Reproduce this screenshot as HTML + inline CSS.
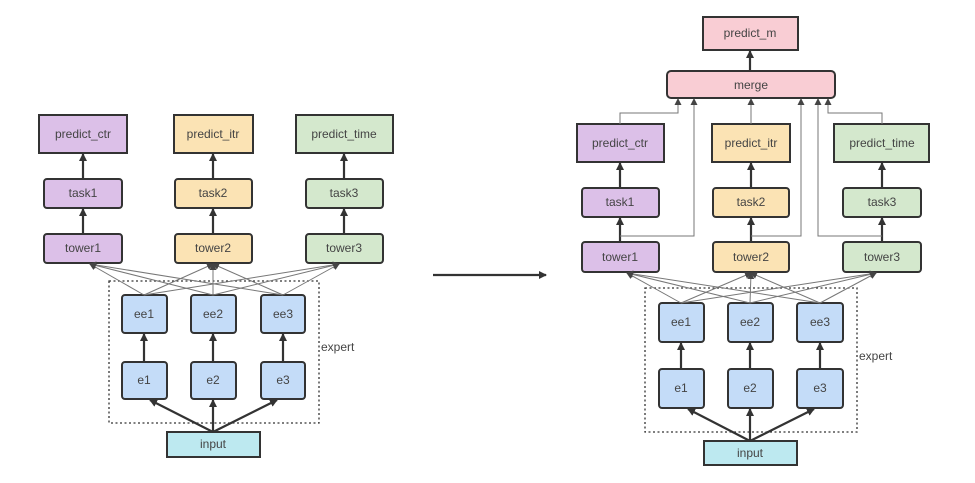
<!DOCTYPE html>
<html><head><meta charset="utf-8"><style>
html,body{margin:0;padding:0;background:#fff;}
text{font-family:"Liberation Sans",sans-serif;font-size:12px;fill:#444;text-anchor:middle;dominant-baseline:central;}
</style></head><body>
<svg width="975" height="478" viewBox="0 0 975 478" xmlns="http://www.w3.org/2000/svg">
<defs>
<marker id="a" markerWidth="8" markerHeight="8" refX="7" refY="4" orient="auto" markerUnits="userSpaceOnUse"><path d="M0,0 L8,4 L0,8 z" fill="#333"/></marker>
<marker id="g" markerWidth="7" markerHeight="7" refX="6" refY="3.5" orient="auto" markerUnits="userSpaceOnUse"><path d="M0,0 L7,3.5 L0,7 z" fill="#444"/></marker>
</defs>
<g stroke="#333" stroke-width="2">
<rect x="39" y="115" width="88" height="38" fill="#dcc0e8"/>
<rect x="174" y="115" width="79" height="38" fill="#fbe3b4"/>
<rect x="296" y="115" width="97" height="38" fill="#d4e8cd"/>
<rect x="44" y="179" width="78" height="29" rx="3" fill="#dcc0e8"/>
<rect x="175" y="179" width="77" height="29" rx="3" fill="#fbe3b4"/>
<rect x="306" y="179" width="77" height="29" rx="3" fill="#d4e8cd"/>
<rect x="44" y="234" width="78" height="29" rx="3" fill="#dcc0e8"/>
<rect x="175" y="234" width="77" height="29" rx="3" fill="#fbe3b4"/>
<rect x="306" y="234" width="77" height="29" rx="3" fill="#d4e8cd"/>
<rect x="122" y="295" width="45" height="38" rx="3" fill="#c4dcf8"/>
<rect x="191" y="295" width="45" height="38" rx="3" fill="#c4dcf8"/>
<rect x="261" y="295" width="44" height="38" rx="3" fill="#c4dcf8"/>
<rect x="122" y="362" width="45" height="37" rx="3" fill="#c4dcf8"/>
<rect x="191" y="362" width="45" height="37" rx="3" fill="#c4dcf8"/>
<rect x="261" y="362" width="44" height="37" rx="3" fill="#c4dcf8"/>
<rect x="167" y="432" width="93" height="25" fill="#bde9f0"/>
<rect x="703" y="17" width="95" height="33" fill="#f9cdd4"/>
<rect x="667" y="71" width="168" height="27" rx="4" fill="#f9cdd4"/>
<rect x="577" y="124" width="87" height="38" fill="#dcc0e8"/>
<rect x="712" y="124" width="78" height="38" fill="#fbe3b4"/>
<rect x="834" y="124" width="95" height="38" fill="#d4e8cd"/>
<rect x="582" y="188" width="77" height="29" rx="3" fill="#dcc0e8"/>
<rect x="713" y="188" width="76" height="29" rx="3" fill="#fbe3b4"/>
<rect x="843" y="188" width="78" height="29" rx="3" fill="#d4e8cd"/>
<rect x="582" y="242" width="77" height="30" rx="3" fill="#dcc0e8"/>
<rect x="713" y="242" width="76" height="30" rx="3" fill="#fbe3b4"/>
<rect x="843" y="242" width="78" height="30" rx="3" fill="#d4e8cd"/>
<rect x="659" y="303" width="45" height="39" rx="3" fill="#c4dcf8"/>
<rect x="728" y="303" width="45" height="39" rx="3" fill="#c4dcf8"/>
<rect x="797" y="303" width="46" height="39" rx="3" fill="#c4dcf8"/>
<rect x="659" y="369" width="45" height="39" rx="3" fill="#c4dcf8"/>
<rect x="728" y="369" width="45" height="39" rx="3" fill="#c4dcf8"/>
<rect x="797" y="369" width="46" height="39" rx="3" fill="#c4dcf8"/>
<rect x="704" y="441" width="93" height="24" fill="#bde9f0"/>
</g>
<g fill="none" stroke="#333" stroke-width="1.3" stroke-dasharray="2,2.5">
<rect x="109" y="281" width="210" height="142"/>
<rect x="645" y="288" width="212" height="144"/>
</g>
<g stroke="#333" stroke-width="2.2" marker-end="url(#a)">
<line x1="83" y1="179" x2="83" y2="154"/><line x1="213" y1="179" x2="213" y2="154"/><line x1="344" y1="179" x2="344" y2="154"/>
<line x1="83" y1="234" x2="83" y2="209"/><line x1="213" y1="234" x2="213" y2="209"/><line x1="344" y1="234" x2="344" y2="209"/>
<line x1="144" y1="362" x2="144" y2="334"/><line x1="213" y1="362" x2="213" y2="334"/><line x1="283" y1="362" x2="283" y2="334"/>
<line x1="213" y1="432" x2="150" y2="400"/><line x1="213" y1="432" x2="213" y2="400"/><line x1="213" y1="432" x2="277" y2="400"/>
<line x1="750" y1="71" x2="750" y2="51"/>
<line x1="620" y1="188" x2="620" y2="163"/><line x1="751" y1="188" x2="751" y2="163"/><line x1="882" y1="188" x2="882" y2="163"/>
<line x1="620" y1="242" x2="620" y2="218"/><line x1="751" y1="242" x2="751" y2="218"/><line x1="882" y1="242" x2="882" y2="218"/>
<line x1="681" y1="369" x2="681" y2="343"/><line x1="750" y1="369" x2="750" y2="343"/><line x1="820" y1="369" x2="820" y2="343"/>
<line x1="750" y1="441" x2="688" y2="409"/><line x1="750" y1="441" x2="750" y2="409"/><line x1="750" y1="441" x2="814" y2="409"/>
<line x1="433" y1="275" x2="546" y2="275"/>
</g>
<g stroke="#777" stroke-width="1" marker-end="url(#g)" fill="none">
<line x1="144" y1="295" x2="90" y2="264"/><line x1="144" y1="295" x2="213" y2="264"/><line x1="144" y1="295" x2="339" y2="264"/>
<line x1="213" y1="295" x2="90" y2="264"/><line x1="213" y1="295" x2="213" y2="264"/><line x1="213" y1="295" x2="339" y2="264"/>
<line x1="283" y1="295" x2="90" y2="264"/><line x1="283" y1="295" x2="213" y2="264"/><line x1="283" y1="295" x2="339" y2="264"/>
<line x1="681" y1="303" x2="627" y2="273"/><line x1="681" y1="303" x2="751" y2="273"/><line x1="681" y1="303" x2="876" y2="273"/>
<line x1="750" y1="303" x2="627" y2="273"/><line x1="750" y1="303" x2="751" y2="273"/><line x1="750" y1="303" x2="876" y2="273"/>
<line x1="820" y1="303" x2="627" y2="273"/><line x1="820" y1="303" x2="751" y2="273"/><line x1="820" y1="303" x2="876" y2="273"/>
<polyline points="620,124 620,113 678,113 678,99"/>
<polyline points="620,236 694,236 694,99"/>
<polyline points="751,124 751,99"/>
<polyline points="751,236 801,236 801,99"/>
<polyline points="882,236 818,236 818,99"/>
<polyline points="882,124 882,113 828,113 828,99"/>
</g>
<g>
<text x="83" y="134">predict_ctr</text><text x="213" y="134">predict_itr</text><text x="344" y="134">predict_time</text>
<text x="83" y="193">task1</text><text x="213" y="193">task2</text><text x="344" y="193">task3</text>
<text x="83" y="248">tower1</text><text x="213" y="248">tower2</text><text x="344" y="248">tower3</text>
<text x="144" y="314">ee1</text><text x="213" y="314">ee2</text><text x="283" y="314">ee3</text>
<text x="144" y="380">e1</text><text x="213" y="380">e2</text><text x="283" y="380">e3</text>
<text x="213" y="444">input</text>
<text x="321" y="347" style="text-anchor:start">expert</text>
<text x="750" y="33">predict_m</text><text x="751" y="85">merge</text>
<text x="620" y="143">predict_ctr</text><text x="751" y="143">predict_itr</text><text x="882" y="143">predict_time</text>
<text x="620" y="202">task1</text><text x="751" y="202">task2</text><text x="882" y="202">task3</text>
<text x="620" y="257">tower1</text><text x="751" y="257">tower2</text><text x="882" y="257">tower3</text>
<text x="681" y="322">ee1</text><text x="750" y="322">ee2</text><text x="820" y="322">ee3</text>
<text x="681" y="388">e1</text><text x="750" y="388">e2</text><text x="820" y="388">e3</text>
<text x="750" y="453">input</text>
<text x="859" y="356" style="text-anchor:start">expert</text>
</g>
</svg>
</body></html>
